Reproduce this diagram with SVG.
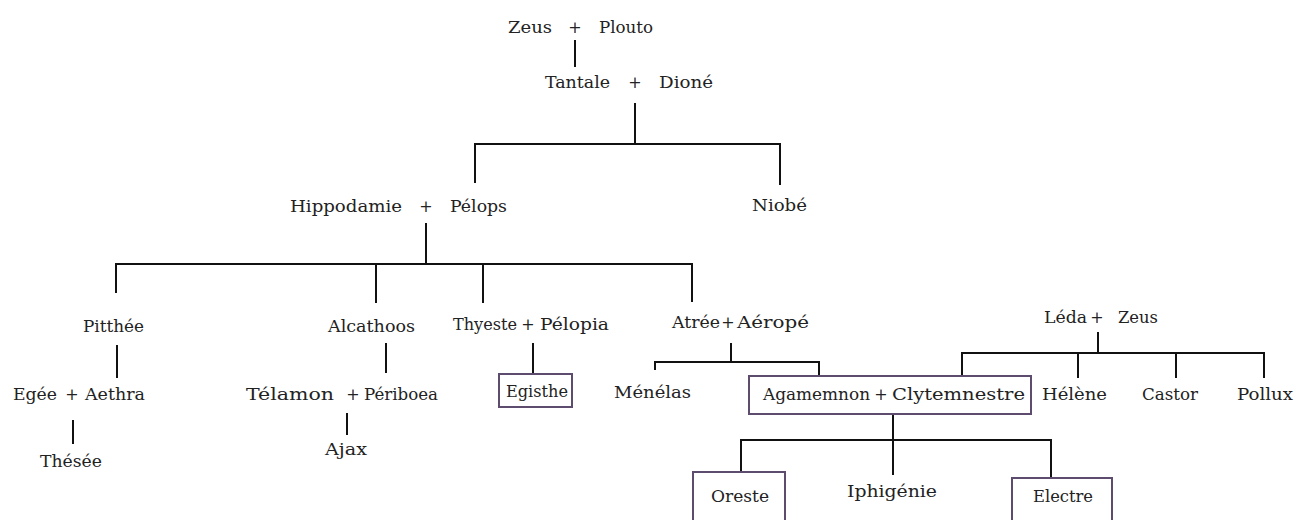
<svg xmlns="http://www.w3.org/2000/svg" width="1300" height="520" viewBox="0 0 1300 520">
<style>
text{font-family:"DejaVu Serif","Liberation Serif",serif;font-size:16px;fill:#222}
.p{text-anchor:middle}
.ln{stroke:#111;stroke-width:2;fill:none}
.box{stroke:#5e4c6e;stroke-width:2;fill:none}
</style>
<rect width="1300" height="520" fill="#fff"/>
<g id="connectors" class="ln">
<path d="M575 40V67"/>
<path d="M635 103V144M475 183V144H780V185"/>
<path d="M426 223V264M116 293V264H692V302M376 264V303M483 264V303"/>
<path d="M117 345V378"/>
<path d="M73 420V444"/>
<path d="M386 343V373"/>
<path d="M347 413V435"/>
<path d="M533 343V374"/>
<path d="M731 343V362M655 370V362H819V376"/>
<path d="M1098 332V353M962 376V353H1264V378M1078 353V378M1176 353V378"/>
<path d="M893 414V440M741 472V440H1051V478M893 440V475"/>
</g>
<g id="zeus-plouto"><text x="508" y="33" textLength="44" lengthAdjust="spacingAndGlyphs">Zeus</text><text class="p" x="575" y="33">+</text><text x="599" y="33" textLength="54" lengthAdjust="spacingAndGlyphs">Plouto</text></g>
<g id="tantale-dione"><text x="545" y="88" textLength="65" lengthAdjust="spacingAndGlyphs">Tantale</text><text class="p" x="635" y="88">+</text><text x="659" y="88" textLength="54" lengthAdjust="spacingAndGlyphs">Dioné</text></g>
<g id="hippodamie-pelops"><text x="290" y="212" textLength="112" lengthAdjust="spacingAndGlyphs">Hippodamie</text><text class="p" x="426" y="212">+</text><text x="450" y="212" textLength="57" lengthAdjust="spacingAndGlyphs">Pélops</text></g>
<g id="niobe"><text x="752" y="211" textLength="55" lengthAdjust="spacingAndGlyphs">Niobé</text></g>
<g id="pitthee"><text x="83" y="332" textLength="61" lengthAdjust="spacingAndGlyphs">Pitthée</text></g>
<g id="egee-aethra"><text x="13" y="400" textLength="44" lengthAdjust="spacingAndGlyphs">Egée</text><text class="p" x="72" y="400">+</text><text x="85" y="400" textLength="60" lengthAdjust="spacingAndGlyphs">Aethra</text></g>
<g id="thesee"><text x="40" y="467" textLength="62" lengthAdjust="spacingAndGlyphs">Thésée</text></g>
<g id="alcathoos"><text x="328" y="332" textLength="87" lengthAdjust="spacingAndGlyphs">Alcathoos</text></g>
<g id="telamon-periboea"><text x="246" y="400" textLength="88" lengthAdjust="spacingAndGlyphs">Télamon</text><text class="p" x="353" y="400">+</text><text x="364" y="400" textLength="74" lengthAdjust="spacingAndGlyphs">Périboea</text></g>
<g id="ajax"><text x="325" y="455" textLength="42" lengthAdjust="spacingAndGlyphs">Ajax</text></g>
<g id="thyeste-pelopia"><text x="453" y="330" textLength="64" lengthAdjust="spacingAndGlyphs">Thyeste</text><text class="p" x="528" y="330">+</text><text x="540" y="330" textLength="69" lengthAdjust="spacingAndGlyphs">Pélopia</text></g>
<g id="egisthe"><rect class="box" x="499" y="374" width="73" height="33"/><text x="506" y="397" textLength="62" lengthAdjust="spacingAndGlyphs">Egisthe</text></g>
<g id="atree-aerope"><text x="672" y="328" textLength="48" lengthAdjust="spacingAndGlyphs">Atrée</text><text class="p" x="728" y="328">+</text><text x="737" y="328" textLength="72" lengthAdjust="spacingAndGlyphs">Aéropé</text></g>
<g id="menelas"><text x="614" y="398" textLength="77" lengthAdjust="spacingAndGlyphs">Ménélas</text></g>
<g id="agamemnon-clytemnestre"><rect class="box" x="749" y="376" width="282" height="38"/><text x="763" y="400" textLength="107" lengthAdjust="spacingAndGlyphs">Agamemnon</text><text class="p" x="881" y="400">+</text><text x="892" y="400" textLength="133" lengthAdjust="spacingAndGlyphs">Clytemnestre</text></g>
<g id="leda-zeus"><text x="1044" y="323" textLength="43" lengthAdjust="spacingAndGlyphs">Léda</text><text class="p" x="1097" y="323">+</text><text x="1118" y="323" textLength="40" lengthAdjust="spacingAndGlyphs">Zeus</text></g>
<g id="helene"><text x="1042" y="400" textLength="65" lengthAdjust="spacingAndGlyphs">Hélène</text></g>
<g id="castor"><text x="1142" y="400" textLength="56" lengthAdjust="spacingAndGlyphs">Castor</text></g>
<g id="pollux"><text x="1237" y="400" textLength="56" lengthAdjust="spacingAndGlyphs">Pollux</text></g>
<g id="oreste"><path class="box" d="M693 520V472H785V520"/><text x="711" y="502" textLength="58" lengthAdjust="spacingAndGlyphs">Oreste</text></g>
<g id="iphigenie"><text x="847" y="497" textLength="90" lengthAdjust="spacingAndGlyphs">Iphigénie</text></g>
<g id="electre"><path class="box" d="M1012 520V478H1112V520"/><text x="1033" y="502" textLength="60" lengthAdjust="spacingAndGlyphs">Electre</text></g>
</svg>
